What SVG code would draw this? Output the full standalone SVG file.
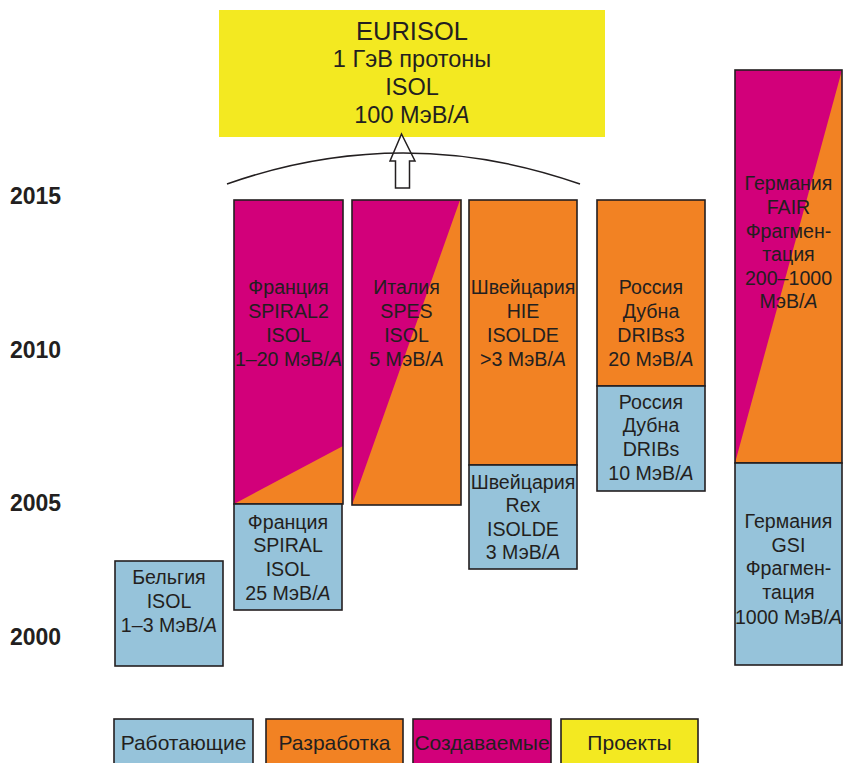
<svg xmlns="http://www.w3.org/2000/svg" width="844" height="763" viewBox="0 0 844 763">
<style>
.bx{stroke:#231f20;stroke-width:1.6}
.op{fill:#96c3da}
.dv{fill:#f28223}
.cr{fill:#d2007a}
.pr{fill:#f3e921}
.t{font-family:"Liberation Sans",Arial,sans-serif;font-size:19.6px;fill:#231f20;text-anchor:middle}
.e{font-size:23.5px}
.big{font-size:25.5px}
.lg{font-size:21px}
.yr{font-family:"Liberation Sans",Arial,sans-serif;font-size:23px;font-weight:bold;fill:#231f20}
.i{font-style:italic}
</style>
<rect width="844" height="763" fill="#fff"/>
<g id="years">
<text class="yr" x="10" y="204">2015</text>
<text class="yr" x="10" y="358">2010</text>
<text class="yr" x="10" y="511">2005</text>
<text class="yr" x="10" y="645">2000</text>
</g>
<g id="eurisol">
<rect x="219" y="10" width="386" height="127" class="pr"/>
<text class="t big" x="412" y="40">EURISOL</text>
<text class="t e" x="412" y="67">1 ГэВ протоны</text>
<text class="t e" x="412" y="95">ISOL</text>
<text class="t e" x="412" y="123">100 МэВ/<tspan class="i">A</tspan></text>
</g>
<g id="connectors">
<polygon points="401.5,134 390,161 395.5,161 395.5,188 409.5,188 409.5,161 415,161" fill="#fff" stroke="#231f20" stroke-width="1.5"/>
<path d="M227,184 Q403,122 580,184" fill="none" stroke="#231f20" stroke-width="1.5"/>
</g>
<g id="belgium">
<rect x="115" y="561" width="108" height="105" class="bx op"/>
<text class="t" x="169" y="584">Бельгия</text>
<text class="t" x="169" y="608">ISOL</text>
<text class="t" x="169" y="632">1–3 МэВ/<tspan class="i">A</tspan></text>
</g>
<g id="france-spiral2">
<rect x="234" y="200" width="109" height="304" class="cr"/>
<polygon points="234,504 343,446 343,504" class="dv"/>
<rect x="234" y="200" width="109" height="304" class="bx" fill="none"/>
<text class="t" x="288.5" y="294">Франция</text>
<text class="t" x="288.5" y="318">SPIRAL2</text>
<text class="t" x="288.5" y="342">ISOL</text>
<text class="t" x="288.5" y="366">1–20 МэВ/<tspan class="i">A</tspan></text>
</g>
<g id="france-spiral">
<rect x="234" y="504" width="108" height="106" class="bx op"/>
<text class="t" x="288" y="529">Франция</text>
<text class="t" x="288" y="552">SPIRAL</text>
<text class="t" x="288" y="576">ISOL</text>
<text class="t" x="288" y="600">25 МэВ/<tspan class="i">A</tspan></text>
</g>
<g id="italy-spes">
<rect x="352" y="200" width="109" height="305" class="cr"/>
<polygon points="352,505 460,200 461,200 461,505" class="dv"/>
<rect x="352" y="200" width="109" height="305" class="bx" fill="none"/>
<text class="t" x="406.5" y="294">Италия</text>
<text class="t" x="406.5" y="318">SPES</text>
<text class="t" x="406.5" y="342">ISOL</text>
<text class="t" x="406.5" y="366">5 МэВ/<tspan class="i">A</tspan></text>
</g>
<g id="swiss-hie">
<rect x="469" y="200" width="108" height="265" class="bx dv"/>
<text class="t" x="523" y="294">Швейцария</text>
<text class="t" x="523" y="318">HIE</text>
<text class="t" x="523" y="342">ISOLDE</text>
<text class="t" x="523" y="366">&gt;3 МэВ/<tspan class="i">A</tspan></text>
</g>
<g id="swiss-rex">
<rect x="469" y="465" width="108" height="104" class="bx op"/>
<text class="t" x="523" y="489">Швейцария</text>
<text class="t" x="523" y="512">Rex</text>
<text class="t" x="523" y="536">ISOLDE</text>
<text class="t" x="523" y="559">3 МэВ/<tspan class="i">A</tspan></text>
</g>
<g id="russia-dribs3">
<rect x="597" y="200" width="108" height="186" class="bx dv"/>
<text class="t" x="651" y="294">Россия</text>
<text class="t" x="651" y="318">Дубна</text>
<text class="t" x="651" y="342">DRIBs3</text>
<text class="t" x="651" y="366">20 МэВ/<tspan class="i">A</tspan></text>
</g>
<g id="russia-dribs">
<rect x="597" y="386" width="108" height="105" class="bx op"/>
<text class="t" x="651" y="409">Россия</text>
<text class="t" x="651" y="432">Дубна</text>
<text class="t" x="651" y="456">DRIBs</text>
<text class="t" x="651" y="480">10 МэВ/<tspan class="i">A</tspan></text>
</g>
<g id="germany-fair">
<rect x="735" y="70" width="107" height="393" class="cr"/>
<polygon points="735,463 842,70 842,463" class="dv"/>
<rect x="735" y="70" width="107" height="393" class="bx" fill="none"/>
<text class="t" x="788.5" y="190">Германия</text>
<text class="t" x="788.5" y="214">FAIR</text>
<text class="t" x="788.5" y="238">Фрагмен-</text>
<text class="t" x="788.5" y="261">тация</text>
<text class="t" x="788.5" y="285">200–1000</text>
<text class="t" x="788.5" y="308">МэВ/<tspan class="i">A</tspan></text>
</g>
<g id="germany-gsi">
<rect x="735" y="463" width="107" height="202" class="bx op"/>
<text class="t" x="788.5" y="528">Германия</text>
<text class="t" x="788.5" y="552">GSI</text>
<text class="t" x="788.5" y="575">Фрагмен-</text>
<text class="t" x="788.5" y="599">тация</text>
<text class="t" x="788.5" y="624">1000 МэВ/<tspan class="i">A</tspan></text>
</g>
<g id="legend">
<rect x="114" y="719" width="139" height="60" class="bx op"/>
<text class="t lg" x="183.5" y="750">Работающие</text>
<rect x="266" y="719" width="137" height="60" class="bx dv"/>
<text class="t lg" x="334.5" y="750">Разработка</text>
<rect x="413" y="719" width="138" height="60" class="bx cr"/>
<text class="t lg" x="482" y="750">Создаваемые</text>
<rect x="561" y="719" width="137" height="60" class="bx pr"/>
<text class="t lg" x="629.5" y="750">Проекты</text>
</g>
</svg>
